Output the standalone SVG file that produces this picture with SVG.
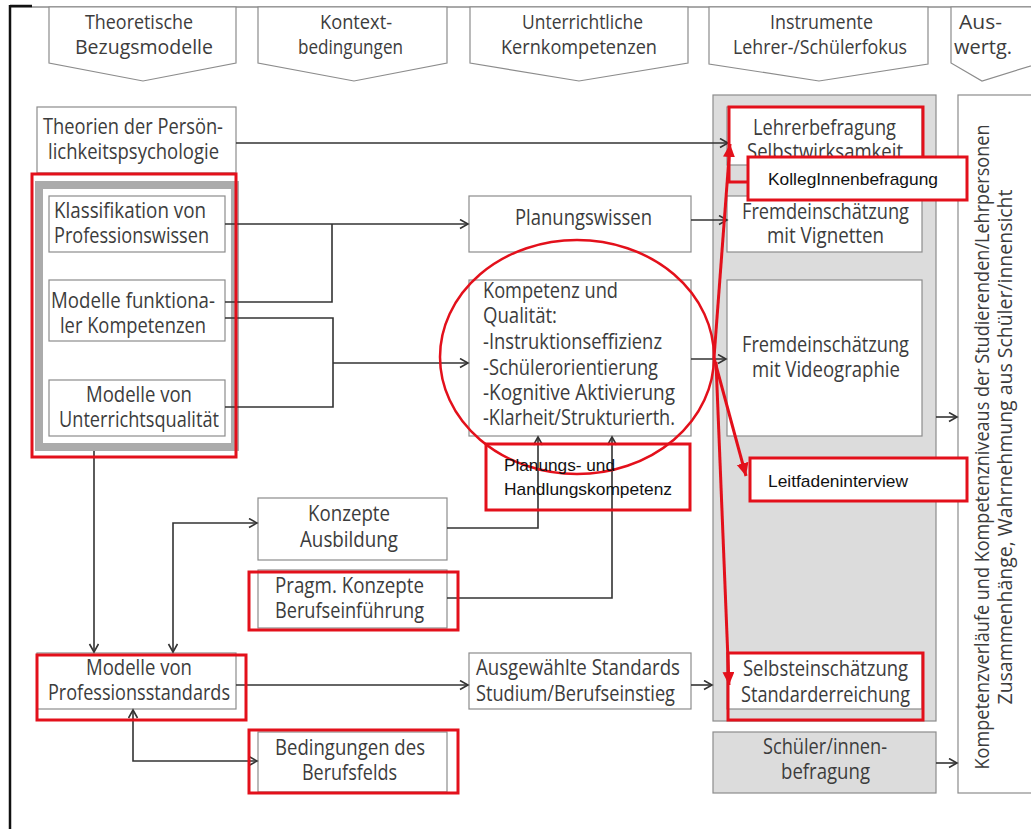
<svg xmlns="http://www.w3.org/2000/svg" width="1031" height="829" viewBox="0 0 1031 829">
  <style>
    .t { font-family: "Open Sans", "Noto Sans", sans-serif; font-size: 22px; fill: #3c3c3c; }
    .h { font-size: 20px; }
    .v { font-size: 20px; }
    .a { font-family: "Liberation Sans", Arial, sans-serif; font-size: 17px; fill: #111; }
    .box { fill: #fff; stroke: #8c8c8c; stroke-width: 1.2; }
    .gray { fill: #dcdcdc; stroke: #8c8c8c; stroke-width: 1.2; }
    .red { fill: none; stroke: #e3101b; stroke-width: 3; }
    .redbox { fill: #fff; stroke: #e3101b; stroke-width: 3; }
    .conn { fill: none; stroke: #333; stroke-width: 1.6; }
    .rline { fill: none; stroke: #e3101b; stroke-width: 3; }
  </style>
  <defs>
    <marker id="arr" markerUnits="userSpaceOnUse" markerWidth="12" markerHeight="12" refX="9" refY="5" orient="auto-start-reverse">
      <path d="M1,0.5 L9,5 L1,9.5" fill="none" stroke="#333" stroke-width="1.6"/>
    </marker>
    <marker id="rarr" markerUnits="userSpaceOnUse" markerWidth="16" markerHeight="14" refX="13" refY="6" orient="auto">
      <path d="M0,0 L13,6 L0,12 z" fill="#e3101b"/>
    </marker>
  </defs>

  <rect width="1031" height="829" fill="#fff"/>

  <!-- frame -->
  <g id="frame">
    <line x1="10" y1="7" x2="1031" y2="7" stroke="#8c8c8c" stroke-width="1.5"/>
    <line x1="10" y1="6" x2="32" y2="6" stroke="#111" stroke-width="2.5"/>
    <line x1="10" y1="5" x2="10" y2="829" stroke="#111" stroke-width="2.5"/>
  </g>

  <!-- column headers -->
  <g id="header-bezug">
    <polygon class="box" points="49,7 236,7 236,63 143,81 49,63"/>
    <text class="t h" x="85" y="29" textLength="108" lengthAdjust="spacingAndGlyphs">Theoretische</text>
    <text class="t h" x="75" y="54" textLength="138" lengthAdjust="spacingAndGlyphs">Bezugsmodelle</text>
  </g>
  <g id="header-kontext">
    <polygon class="box" points="258,7 447,7 447,63 354,81 258,63"/>
    <text class="t h" x="320" y="29" textLength="72" lengthAdjust="spacingAndGlyphs">Kontext-</text>
    <text class="t h" x="298" y="54" textLength="105" lengthAdjust="spacingAndGlyphs">bedingungen</text>
  </g>
  <g id="header-kern">
    <polygon class="box" points="470,7 688,7 688,63 579,81 470,63"/>
    <text class="t h" x="522" y="29" textLength="121" lengthAdjust="spacingAndGlyphs">Unterrichtliche</text>
    <text class="t h" x="501" y="54" textLength="156" lengthAdjust="spacingAndGlyphs">Kernkompetenzen</text>
  </g>
  <g id="header-instrumente">
    <polygon class="box" points="709,7 928,7 928,64 819,81 709,64"/>
    <text class="t h" x="770" y="29" textLength="103" lengthAdjust="spacingAndGlyphs">Instrumente</text>
    <text class="t h" x="733" y="54" textLength="174" lengthAdjust="spacingAndGlyphs">Lehrer-/Schülerfokus</text>
  </g>
  <g id="header-auswertung">
    <polygon class="box" points="951,7 1040,7 1040,63 982,81 951,63"/>
    <text class="t h" x="959" y="29" textLength="43" lengthAdjust="spacingAndGlyphs">Aus-</text>
    <text class="t h" x="954" y="54" textLength="58" lengthAdjust="spacingAndGlyphs">wertg.</text>
  </g>

  <!-- instrument column and evaluation column -->
  <g id="instrumente-bereich">
    <rect class="gray" x="713" y="95" width="223" height="626"/>
  </g>
  <g id="auswertung">
    <rect class="box" x="958" y="95" width="90" height="698"/>
    <text class="t v" transform="translate(989,447) rotate(-90)" text-anchor="middle" textLength="645" lengthAdjust="spacingAndGlyphs">Kompetenzverläufe und Kompetenzniveaus der Studierenden/Lehrpersonen</text>
    <text class="t v" transform="translate(1012,447) rotate(-90)" text-anchor="middle" textLength="515" lengthAdjust="spacingAndGlyphs">Zusammenhänge, Wahrnehmung aus Schüler/innensicht</text>
  </g>

  <!-- left column -->
  <g id="theorien">
    <rect class="box" x="37" y="107" width="199" height="66"/>
    <text class="t" x="43" y="134" textLength="180" lengthAdjust="spacingAndGlyphs">Theorien der Persön-</text>
    <text class="t" x="48" y="159" textLength="171" lengthAdjust="spacingAndGlyphs">lichkeitspsychologie</text>
  </g>
  <g id="modellgruppe">
    <rect x="39" y="185" width="196" height="262" fill="#fff" stroke="#ababab" stroke-width="8"/>
  </g>
  <g id="klassifikation">
    <rect class="box" x="49" y="196" width="176" height="56"/>
    <text class="t" x="54" y="218" textLength="152" lengthAdjust="spacingAndGlyphs">Klassifikation von</text>
    <text class="t" x="54" y="243" textLength="155" lengthAdjust="spacingAndGlyphs">Professionswissen</text>
  </g>
  <g id="funktional">
    <rect class="box" x="49" y="280" width="176" height="61"/>
    <text class="t" x="51" y="308" textLength="164" lengthAdjust="spacingAndGlyphs">Modelle funktiona-</text>
    <text class="t" x="60" y="333" textLength="146" lengthAdjust="spacingAndGlyphs">ler Kompetenzen</text>
  </g>
  <g id="unterrichtsqualitaet">
    <rect class="box" x="49" y="380" width="176" height="56"/>
    <text class="t" x="86" y="402" textLength="106" lengthAdjust="spacingAndGlyphs">Modelle von</text>
    <text class="t" x="59" y="427" textLength="160" lengthAdjust="spacingAndGlyphs">Unterrichtsqualität</text>
  </g>
  <g id="professionsstandards">
    <rect class="box" x="37" y="653" width="199" height="56"/>
    <text class="t" x="86" y="675" textLength="106" lengthAdjust="spacingAndGlyphs">Modelle von</text>
    <text class="t" x="48" y="700" textLength="182" lengthAdjust="spacingAndGlyphs">Professionsstandards</text>
  </g>

  <!-- context column -->
  <g id="konzepte-ausbildung">
    <rect class="box" x="258" y="498" width="189" height="62"/>
    <text class="t" x="308" y="521" textLength="82" lengthAdjust="spacingAndGlyphs">Konzepte</text>
    <text class="t" x="300" y="547" textLength="98" lengthAdjust="spacingAndGlyphs">Ausbildung</text>
  </g>
  <g id="pragm-konzepte">
    <rect class="box" x="258" y="570" width="189" height="58"/>
    <text class="t" x="275" y="593" textLength="149" lengthAdjust="spacingAndGlyphs">Pragm. Konzepte</text>
    <text class="t" x="275" y="618" textLength="149" lengthAdjust="spacingAndGlyphs">Berufseinführung</text>
  </g>
  <g id="bedingungen">
    <rect class="box" x="258" y="732" width="189" height="60"/>
    <text class="t" x="275" y="755" textLength="150" lengthAdjust="spacingAndGlyphs">Bedingungen des</text>
    <text class="t" x="302" y="780" textLength="95" lengthAdjust="spacingAndGlyphs">Berufsfelds</text>
  </g>

  <!-- core competences column -->
  <g id="planungswissen">
    <rect class="box" x="469" y="196" width="222" height="56"/>
    <text class="t" x="515" y="225" textLength="137" lengthAdjust="spacingAndGlyphs">Planungswissen</text>
  </g>
  <g id="kompetenz-qualitaet">
    <rect class="box" x="469" y="280" width="222" height="156"/>
    <text class="t" x="483" y="298" textLength="135" lengthAdjust="spacingAndGlyphs">Kompetenz und</text>
    <text class="t" x="483" y="323" textLength="74" lengthAdjust="spacingAndGlyphs">Qualität:</text>
    <text class="t" x="483" y="349" textLength="179" lengthAdjust="spacingAndGlyphs">-Instruktionseffizienz</text>
    <text class="t" x="483" y="375" textLength="175" lengthAdjust="spacingAndGlyphs">-Schülerorientierung</text>
    <text class="t" x="483" y="400" textLength="192" lengthAdjust="spacingAndGlyphs">-Kognitive Aktivierung</text>
    <text class="t" x="483" y="425" textLength="192" lengthAdjust="spacingAndGlyphs">-Klarheit/Strukturierth.</text>
  </g>
  <g id="standards">
    <rect class="box" x="469" y="653" width="222" height="56"/>
    <text class="t" x="476" y="675" textLength="204" lengthAdjust="spacingAndGlyphs">Ausgewählte Standards</text>
    <text class="t" x="476" y="701" textLength="199" lengthAdjust="spacingAndGlyphs">Studium/Berufseinstieg</text>
  </g>

  <!-- instrument boxes -->
  <g id="lehrerbefragung">
    <rect class="box" x="727" y="107" width="195" height="58"/>
    <text class="t" x="753" y="135" textLength="143" lengthAdjust="spacingAndGlyphs">Lehrerbefragung</text>
    <text class="t" x="747" y="159" textLength="156" lengthAdjust="spacingAndGlyphs">Selbstwirksamkeit</text>
  </g>
  <g id="vignetten">
    <rect class="box" x="727" y="196" width="195" height="56"/>
    <text class="t" x="742" y="219" textLength="167" lengthAdjust="spacingAndGlyphs">Fremdeinschätzung</text>
    <text class="t" x="767" y="243" textLength="117" lengthAdjust="spacingAndGlyphs">mit Vignetten</text>
  </g>
  <g id="videographie">
    <rect class="box" x="727" y="280" width="195" height="156"/>
    <text class="t" x="742" y="352" textLength="167" lengthAdjust="spacingAndGlyphs">Fremdeinschätzung</text>
    <text class="t" x="752" y="377" textLength="148" lengthAdjust="spacingAndGlyphs">mit Videographie</text>
  </g>
  <g id="selbsteinschaetzung">
    <rect class="box" x="727" y="653" width="195" height="56"/>
    <text class="t" x="743" y="676" textLength="165" lengthAdjust="spacingAndGlyphs">Selbsteinschätzung</text>
    <text class="t" x="741" y="702" textLength="169" lengthAdjust="spacingAndGlyphs">Standarderreichung</text>
  </g>
  <g id="schuelerbefragung">
    <rect class="gray" x="713" y="732" width="223" height="61"/>
    <text class="t" x="763" y="754" textLength="124" lengthAdjust="spacingAndGlyphs">Schüler/innen-</text>
    <text class="t" x="781" y="779" textLength="89" lengthAdjust="spacingAndGlyphs">befragung</text>
  </g>

  <!-- connectors -->
  <g id="connectors">
    <path class="conn" d="M236,143 H728" marker-end="url(#arr)"/>
    <path class="conn" d="M225,224 H468" marker-end="url(#arr)"/>
    <path class="conn" d="M225,302 H332 V224"/>
    <path class="conn" d="M225,318 H333 V407 H225"/>
    <path class="conn" d="M333,363 H468" marker-end="url(#arr)"/>
    <path class="conn" d="M691,220 H727" marker-end="url(#arr)"/>
    <path class="conn" d="M691,359 H726" marker-end="url(#arr)"/>
    <path class="conn" d="M936,417 H957" marker-end="url(#arr)"/>
    <path class="conn" d="M936,763 H957" marker-end="url(#arr)"/>
    <path class="conn" d="M94,451 V652" marker-end="url(#arr)"/>
    <path class="conn" d="M173,652 V523 H257" marker-start="url(#arr)" marker-end="url(#arr)"/>
    <path class="conn" d="M133,710 V761 H257" marker-start="url(#arr)" marker-end="url(#arr)"/>
    <path class="conn" d="M236,685 H468" marker-end="url(#arr)"/>
    <path class="conn" d="M691,685 H712" marker-end="url(#arr)"/>
    <path class="conn" d="M447,528 H538 V437" marker-end="url(#arr)"/>
    <path class="conn" d="M447,598 H612 V437" marker-end="url(#arr)"/>
  </g>

  <!-- highlighted annotations -->
  <g id="markierungen">
    <rect class="red" x="32" y="174" width="204" height="283"/>
    <rect class="red" x="37" y="655" width="209" height="65"/>
    <rect class="red" x="249" y="572" width="209" height="58"/>
    <rect class="red" x="249" y="730" width="209" height="63"/>
    <rect class="red" x="729" y="107" width="194" height="75"/>
    <rect class="red" x="728" y="653" width="195" height="67"/>
    <ellipse cx="577" cy="357" rx="137" ry="117" fill="none" stroke="#e3101b" stroke-width="2.5"/>
  </g>
  <g id="planungs-handlungskompetenz">
    <rect class="red" x="486" y="444" width="204" height="66"/>
    <text class="a" x="504" y="471" textLength="111" lengthAdjust="spacingAndGlyphs">Planungs- und</text>
    <text class="a" x="504" y="495" textLength="168" lengthAdjust="spacingAndGlyphs">Handlungskompetenz</text>
  </g>
  <g id="rote-pfeile">
    <path class="rline" d="M714,358 L730,144" marker-end="url(#rarr)"/>
    <path class="rline" d="M714,358 L746,476" marker-end="url(#rarr)"/>
    <path class="rline" d="M716,362 L729,685" marker-end="url(#rarr)"/>
  </g>
  <g id="kolleginnenbefragung">
    <rect class="redbox" x="748" y="157" width="219" height="43"/>
    <text class="a" x="768" y="185" textLength="170" lengthAdjust="spacingAndGlyphs">KollegInnenbefragung</text>
  </g>
  <g id="leitfadeninterview">
    <rect class="redbox" x="750" y="458" width="217" height="43"/>
    <text class="a" x="768" y="487" textLength="140" lengthAdjust="spacingAndGlyphs">Leitfadeninterview</text>
  </g>
</svg>
